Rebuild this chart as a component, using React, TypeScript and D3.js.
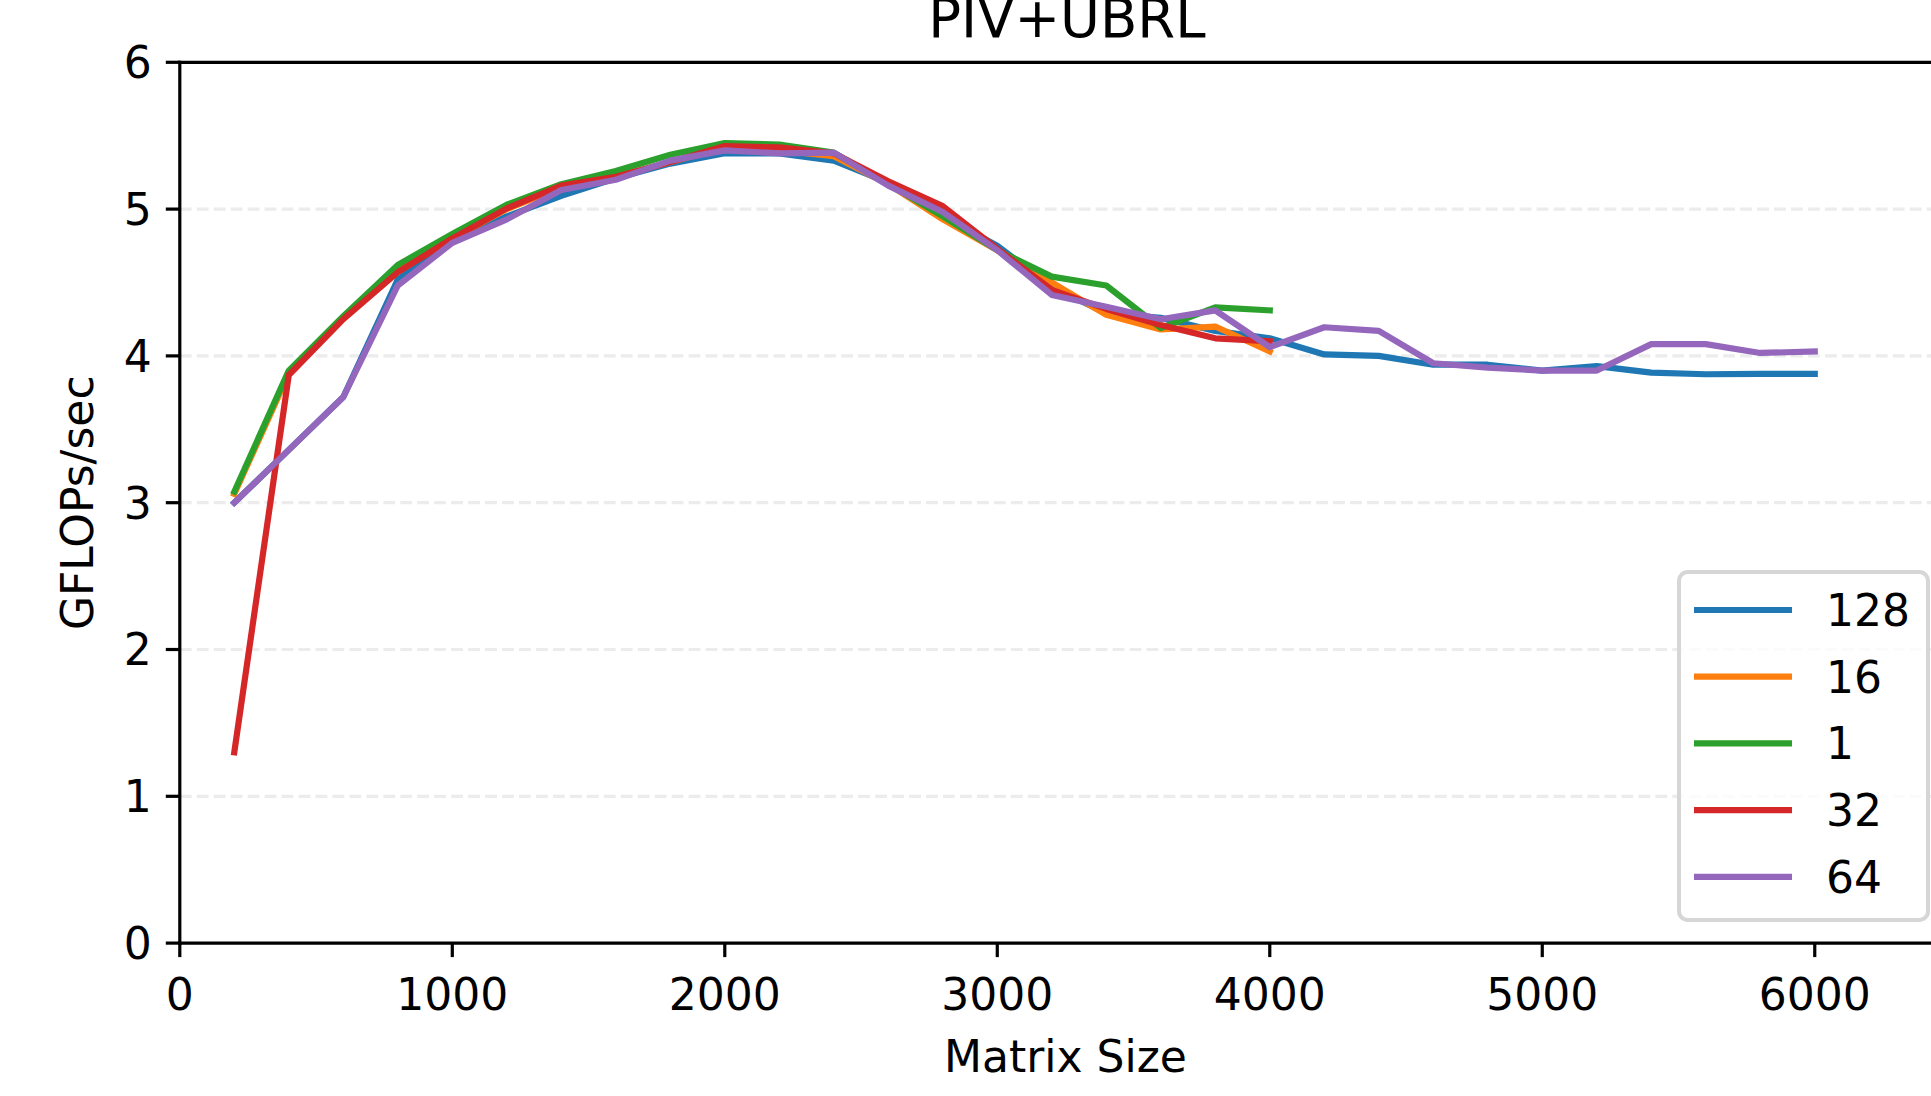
import React from "react";
import * as d3 from "d3";

const sizesLong = [200, 400, 600, 800, 1000, 1200, 1400, 1600, 1800, 2000, 2200, 2400, 2600, 2800, 3000, 3200, 3400, 3600, 3800, 4000, 4200, 4400, 4600, 4800, 5000, 5200, 5400, 5600, 5800, 6000];
const sizesShort = [200, 400, 600, 800, 1000, 1200, 1400, 1600, 1800, 2000, 2200, 2400, 2600, 2800, 3000, 3200, 3400, 3600, 3800, 4000];

const s128 = [3.0, 3.36, 3.72, 4.52, 4.78, 4.95, 5.09, 5.21, 5.31, 5.38, 5.38, 5.33, 5.18, 4.95, 4.75, 4.47, 4.29, 4.26, 4.17, 4.12, 4.01, 4.0, 3.94, 3.94, 3.9, 3.93, 3.886, 3.875, 3.877, 3.877];
const s16 = [3.06, 3.88, 4.26, 4.58, 4.8, 5.0, 5.15, 5.22, 5.32, 5.42, 5.4, 5.36, 5.17, 4.93, 4.72, 4.5, 4.28, 4.18, 4.2, 4.03];
const s1 = [3.075, 3.9, 4.27, 4.62, 4.83, 5.03, 5.17, 5.26, 5.37, 5.45, 5.44, 5.385, 5.17, 4.95, 4.72, 4.54, 4.48, 4.19, 4.33, 4.31];
const s32 = [1.3, 3.87, 4.25, 4.57, 4.8, 5.005, 5.16, 5.22, 5.32, 5.43, 5.42, 5.38, 5.19, 5.02, 4.73, 4.45, 4.32, 4.21, 4.12, 4.1];
const s64 = [3.0, 3.36, 3.72, 4.48, 4.77, 4.93, 5.13, 5.2, 5.33, 5.4, 5.38, 5.385, 5.16, 4.98, 4.72, 4.415, 4.335, 4.25, 4.31, 4.06, 4.195, 4.17, 3.95, 3.92, 3.9, 3.9, 4.08, 4.08, 4.02, 4.03];

const seriesNames = ["128", "16", "1", "32", "64"];
const seriesColors = ["#1f77b4", "#ff7f0e", "#2ca02c", "#d62728", "#9467bd"];
const xTicks = [0, 1000, 2000, 3000, 4000, 5000, 6000];
const yTicks = [0, 1, 2, 3, 4, 5, 6];

const W = 1931;
const H = 1096;
const FONT = "'DejaVu Sans', sans-serif";
const FS = 44;

export default function App() {
  const left = 179.8;
  const right = 1951;
  const top = 62.3;
  const bottom = 943.1;
  const x = d3.scaleLinear().domain([0, 6500]).range([left, right]);
  const y = d3.scaleLinear().domain([0, 6]).range([bottom, top]);

  const series = [
    { name: seriesNames[0], color: seriesColors[0], xs: sizesLong, ys: s128 },
    { name: seriesNames[1], color: seriesColors[1], xs: sizesShort, ys: s16 },
    { name: seriesNames[2], color: seriesColors[2], xs: sizesShort, ys: s1 },
    { name: seriesNames[3], color: seriesColors[3], xs: sizesShort, ys: s32 },
    { name: seriesNames[4], color: seriesColors[4], xs: sizesLong, ys: s64 },
  ];

  const line = d3
    .line<[number, number]>()
    .x((d) => x(d[0]))
    .y((d) => y(d[1]));

  const tickLen = 14;
  const pad = 14;

  const legLeft = 1679;
  const legRight = 1928;
  const legTop = 572;
  const legBottom = 920;
  const legLineX0 = 1694;
  const legLineX1 = 1792;
  const legTextX = 1826;
  const legFirstY = 610;
  const legStep = 66.7;

  return (
    <svg
      width={W}
      height={H}
      viewBox={`0 0 ${W} ${H}`}
      style={{ position: "fixed", left: 0, top: 0, background: "#fff" }}
    >
      <rect x={0} y={0} width={W} height={H} fill="#fff" />
      {yTicks
        .filter((t) => t > 0 && t < 6)
        .map((t) => (
          <line
            key={"g" + t}
            x1={left}
            x2={right}
            y1={y(t)}
            y2={y(t)}
            stroke="#ececec"
            strokeWidth={3.2}
            strokeDasharray="11.84 5.12"
          />
        ))}
      {series.map((s) => (
        <path
          key={s.name}
          d={line(s.xs.map((v, i) => [v, s.ys[i]] as [number, number])) || ""}
          fill="none"
          stroke={s.color}
          strokeWidth={6.2}
          strokeLinejoin="round"
          strokeLinecap="square"
        />
      ))}
      <line x1={left} x2={left} y1={top} y2={bottom} stroke="#000" strokeWidth={3.2} strokeLinecap="square" />
      <line x1={left} x2={right} y1={bottom} y2={bottom} stroke="#000" strokeWidth={3.2} strokeLinecap="square" />
      <line x1={left} x2={right} y1={top} y2={top} stroke="#000" strokeWidth={3.2} strokeLinecap="square" />
      {yTicks.map((t) => (
        <g key={"yt" + t}>
          <line x1={left - tickLen} x2={left} y1={y(t)} y2={y(t)} stroke="#000" strokeWidth={3.2} />
          <text
            x={left - tickLen - pad}
            y={y(t)}
            dy="0.36em"
            textAnchor="end"
            fontFamily={FONT}
            fontSize={FS}
            fill="#000"
          >
            {t}
          </text>
        </g>
      ))}
      {xTicks.map((t) => (
        <g key={"xt" + t}>
          <line x1={x(t)} x2={x(t)} y1={bottom} y2={bottom + tickLen} stroke="#000" strokeWidth={3.2} />
          <text x={x(t)} y={1010} textAnchor="middle" fontFamily={FONT} fontSize={FS} fill="#000">
            {t}
          </text>
        </g>
      ))}
      <text x={(left + right) / 2} y={1072} textAnchor="middle" fontFamily={FONT} fontSize={FS} fill="#000">
        Matrix Size
      </text>
      <text
        transform={`translate(92.5, ${(top + bottom) / 2}) rotate(-90)`}
        textAnchor="middle"
        fontFamily={FONT}
        fontSize={FS}
        fill="#000"
      >
        GFLOPs/sec
      </text>
      <text x={(left + right) / 2 + 1.5} y={37} textAnchor="middle" fontFamily={FONT} fontSize={54.5} fill="#000">
        PIV+UBRL
      </text>
      <rect
        x={legLeft}
        y={legTop}
        width={legRight - legLeft}
        height={legBottom - legTop}
        rx={8.8}
        ry={8.8}
        fill="#fff"
        fillOpacity={0.8}
        stroke="#d6d6d6"
        strokeWidth={4}
      />
      {series.map((s, i) => (
        <g key={"lg" + s.name}>
          <line
            x1={legLineX0}
            x2={legLineX1}
            y1={legFirstY + i * legStep}
            y2={legFirstY + i * legStep}
            stroke={s.color}
            strokeWidth={6.2}
          />
          <text
            x={legTextX}
            y={legFirstY + i * legStep + 16}
            fontFamily={FONT}
            fontSize={FS}
            fill="#000"
          >
            {s.name}
          </text>
        </g>
      ))}
    </svg>
  );
}
